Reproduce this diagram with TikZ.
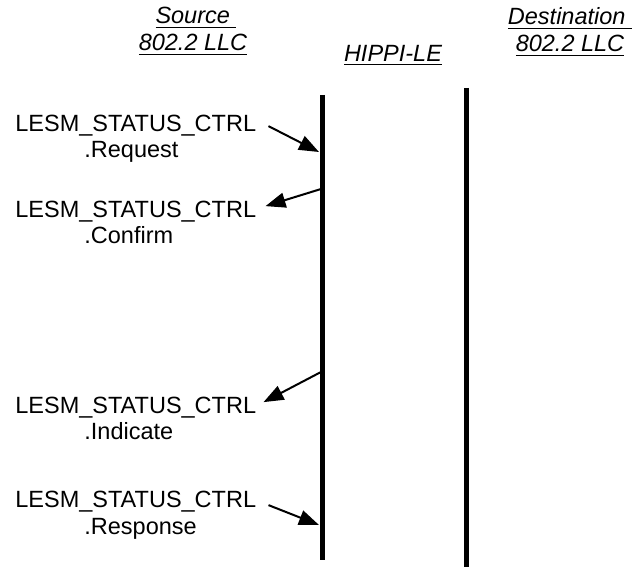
\documentclass[tikz,border=0pt]{standalone}
\usepackage{fontspec}
\setmainfont{Liberation Sans}
\usepackage{tikz}
\usetikzlibrary{arrows.meta,positioning}
\tikzstyle{arrow} = [line width=1pt,-{Triangle[length=10pt,width=7.5pt]}]
\tikzstyle{lifeline} = [line width=2.5pt]
\tikzstyle{primname} = [inner sep=0pt, anchor=base west, font=\fontsize{11.75}{14}\selectfont]
\tikzstyle{header} = [inner sep=0pt, anchor=base, font=\fontsize{11.75}{14}\selectfont\itshape]

\begin{document}
\begin{tikzpicture}[x=0.5pt,y=-0.5pt]
\useasboundingbox (0,0) rectangle (644,567);
% Column headings
\node[header] (src1) at (196,24) {\underline{Source\ }};
\node[header] (src2) at (193,51) {\underline{802.2 LLC}};
\node[header] (le) at (393,62) {\underline{HIPPI-LE}};
\node[header] (dst1) at (570,25) {\underline{Destination\ }};
\node[header] (dst2) at (570,52) {\underline{802.2 LLC}};

% Lifelines
\coordinate (srctop) at (322.5,95);
\coordinate (srcbot) at (322.5,560);
\coordinate (dsttop) at (466.5,88);
\coordinate (dstbot) at (466.5,567);
\draw[lifeline] (srctop) -- (srcbot);
\draw[lifeline] (dsttop) -- (dstbot);

% Primitives
\node[primname] (req) at (15,132) {LESM\_STATUS\_CTRL};
\node[primname] (reqs) at (84,158) {.Request};
\node[primname] (conf) at (15,218) {LESM\_STATUS\_CTRL};
\node[primname] (confs) at (84,244) {.Confirm};
\node[primname] (ind) at (15,414) {LESM\_STATUS\_CTRL};
\node[primname] (inds) at (84,440) {.Indicate};
\node[primname] (resp) at (15,508) {LESM\_STATUS\_CTRL};
\node[primname] (resps) at (84,534) {.Response};

% Arrows to and from the lifeline
\coordinate (p1) at (319,152);
\coordinate (p2) at (321,189);
\coordinate (p3) at (321,372);
\coordinate (p4) at (319,525);
\draw[arrow] ([xshift=6pt]req.east) -- (p1);
\draw[arrow] (p2) -- ([xshift=4.5pt,yshift=3pt]conf.east);
\draw[arrow] (p3) -- ([xshift=3.5pt,yshift=3pt]ind.east);
\draw[arrow] ([xshift=6pt,yshift=-1.5pt]resp.east) -- (p4);
\end{tikzpicture}
\end{document}
